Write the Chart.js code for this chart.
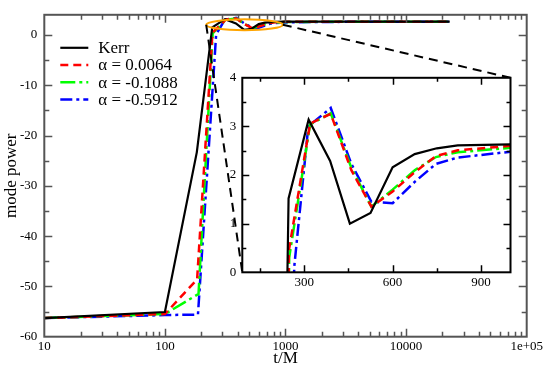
<!DOCTYPE html>
<html>
<head>
<meta charset="utf-8">
<script src="https://cdn.jsdelivr.net/npm/chart.js@4.4.0/dist/chart.umd.min.js"></script>
<style>
body { margin: 0; background: #fff; }
#wrap { position: relative; width: 545px; height: 370px; }
canvas { display: block; }
#inset { position: absolute; }
</style>
</head>
<body>
<div id="wrap">
<canvas id="main" width="545" height="370"></canvas>
<canvas id="inset" width="300" height="230"></canvas>
</div>
<script>
// series (t/M, mode power)
var kerrT = [10, 100, 184, 247, 315, 388, 455, 525, 600, 675, 750, 821, 1000, 2000, 5000, 23000];
var kerrP = [-56.3, -55.1, -23.3, 1.52, 3.14, 2.29, 1.0, 1.22, 2.16, 2.43, 2.55, 2.61, 2.63, 2.64, 2.64, 2.64];

var a1T = [10, 100, 185, 248, 320, 390, 460, 528, 600, 675, 747, 821, 1000, 2000, 5000, 23000];
var a1P = [-56.3, -55.5, -48.6, 0.45, 3.06, 3.26, 2.1, 1.35, 1.66, 2.06, 2.39, 2.51, 2.6, 2.63, 2.64, 2.64];

var a2T = [10, 100, 190, 249, 320, 390, 460, 528, 600, 675, 747, 821, 1000, 2000, 5000, 23000];
var a2P = [-56.3, -55.5, -51.5, 0.3, 3.04, 3.27, 2.15, 1.35, 1.7, 2.1, 2.37, 2.47, 2.56, 2.62, 2.64, 2.64];

var a3T = [10, 100, 188, 266, 314, 390, 460, 528, 600, 675, 747, 821, 1000, 2000, 5000, 23000];
var a3P = [-56.3, -55.7, -55.6, 0.1, 3.0, 3.38, 2.23, 1.45, 1.42, 1.86, 2.23, 2.36, 2.48, 2.58, 2.62, 2.64];

var labels = ['Kerr', 'α = 0.0064', 'α = -0.1088', 'α = -0.5912'];
var colors = ['#000000', '#ff0000', '#00ff00', '#0000ff'];
var dashes = [[], [8, 5], [15, 4, 3, 4], [12, 4, 3, 4]];
var widths = [2.2, 2.5, 2.5, 2.5];

var mainXTicks = [10, 100, 1000, 10000, 100000];
var mainXLabels = ['10', '100', '1000', '10000', '1e+05'];
var mainYTicks = [-60, -50, -40, -30, -20, -10, 0];
var insetXTicks = [300, 600, 900];
var insetYTicks = [0, 1, 2, 3, 4];

// zoomed region marked on the main plot
var zoomT = [220, 950];
var zoomP = [0.95, 3.1];

var insetLeft = 215, insetTop = 64;
var font = "'Liberation Serif', 'Times New Roman', serif";

function toXY(t, p) {
    var out = [];
    for (var i = 0; i < t.length; i++) out.push({x: t[i], y: p[i]});
    return out;
}

function makeDatasets() {
    var ts = [kerrT, a1T, a2T, a3T], ps = [kerrP, a1P, a2P, a3P];
    var ds = [];
    for (var i = 0; i < 4; i++) {
        ds.push({
            label: labels[i],
            data: toXY(ts[i], ps[i]),
            borderColor: colors[i],
            borderWidth: widths[i],
            borderDash: dashes[i],
            pointRadius: 0,
            tension: 0,
            fill: false,
            clip: 0
        });
    }
    return ds;
}

var frameTicks = {
    id: 'frameTicks',
    beforeDraw: function (chart) {
        var a = chart.chartArea, ctx = chart.ctx;
        ctx.save();
        ctx.fillStyle = '#fff';
        ctx.fillRect(a.left, a.top, a.right - a.left, a.bottom - a.top);
        ctx.restore();
    },
    afterDraw: function (chart) {
        var o = chart.options.plugins.frameTicks;
        var ctx = chart.ctx, a = chart.chartArea;
        var xs = chart.scales.x, ys = chart.scales.y;
        ctx.save();
        ctx.strokeStyle = o.color;
        ctx.lineWidth = 1.5;
        function tx(vals, len) {
            vals.forEach(function (v) {
                var px = Math.round(xs.getPixelForValue(v)) + 0.5;
                if (px < a.left + 1 || px > a.right - 1) return;
                ctx.beginPath();
                ctx.moveTo(px, a.bottom); ctx.lineTo(px, a.bottom - len);
                ctx.moveTo(px, a.top); ctx.lineTo(px, a.top + len);
                ctx.stroke();
            });
        }
        function ty(vals, len) {
            vals.forEach(function (v) {
                var py = Math.round(ys.getPixelForValue(v)) + 0.5;
                if (py < a.top + 1 || py > a.bottom - 1) return;
                ctx.beginPath();
                ctx.moveTo(a.left, py); ctx.lineTo(a.left + len, py);
                ctx.moveTo(a.right, py); ctx.lineTo(a.right - len, py);
                ctx.stroke();
            });
        }
        tx(o.xMajor, o.majorLen); tx(o.xMinor, o.minorLen);
        ty(o.yMajor, o.majorLen); ty(o.yMinor, o.minorLen);
        ctx.lineWidth = 2;
        ctx.strokeRect(a.left, a.top, a.right - a.left, a.bottom - a.top);
        ctx.restore();
    }
};

var legendAndZoom = {
    id: 'legendAndZoom',
    afterDraw: function (chart) {
        var ctx = chart.ctx, a = chart.chartArea;
        var xs = chart.scales.x, ys = chart.scales.y;
        ctx.save();
        // legend
        ctx.font = '17px ' + font;
        ctx.textBaseline = 'middle';
        ctx.fillStyle = '#000';
        chart.data.datasets.forEach(function (d, i) {
            var y = a.top + 33 + i * 17.2;
            ctx.strokeStyle = d.borderColor;
            ctx.lineWidth = d.borderWidth;
            ctx.setLineDash(d.borderDash);
            ctx.beginPath();
            ctx.moveTo(a.left + 16, y);
            ctx.lineTo(a.left + 44, y);
            ctx.stroke();
            ctx.fillText(d.label, a.left + 54, y + 1);
        });
        // orange ellipse round the zoomed region
        var x0 = xs.getPixelForValue(zoomT[0]), x1 = xs.getPixelForValue(zoomT[1]);
        var y0 = ys.getPixelForValue(zoomP[1]), y1 = ys.getPixelForValue(zoomP[0]);
        var cx = (x0 + x1) / 2, cy = (y0 + y1) / 2, rx = (x1 - x0) / 2, ry = (y1 - y0) / 2;
        ctx.setLineDash([]);
        ctx.strokeStyle = '#ffa500';
        ctx.lineWidth = 2;
        ctx.beginPath();
        ctx.ellipse(cx, cy, rx, ry, 0, 0, Math.PI * 2);
        ctx.stroke();
        // dashed connectors to the inset corners
        var ia = insetChart.chartArea;
        ctx.strokeStyle = '#000';
        ctx.setLineDash([9, 6]);
        ctx.beginPath();
        ctx.moveTo(cx - rx, cy);
        ctx.lineTo(insetLeft + ia.left, insetTop + ia.bottom);
        ctx.moveTo(cx + rx, cy);
        ctx.lineTo(insetLeft + ia.right, insetTop + ia.top);
        ctx.stroke();
        ctx.restore();
    }
};

var mainXMinor = [], mainYMinor = [];
for (var e = 10; e < 100000; e *= 10) {
    for (var k = 2; k <= 9; k++) mainXMinor.push(k * e);
}
for (var v = -55; v < 4; v += 10) mainYMinor.push(v);

var insetXMinor = [150, 450, 750];
var insetYMinor = [0.5, 1.5, 2.5, 3.5];

var insetEl = document.getElementById('inset');
insetEl.style.left = insetLeft + 'px';
insetEl.style.top = insetTop + 'px';

var insetChart = new Chart(insetEl, {
    type: 'line',
    data: {datasets: makeDatasets()},
    plugins: [frameTicks],
    options: {
        responsive: false,
        animation: false,
        layout: {padding: {left: 0, top: 9.5, right: 4.5, bottom: 0}},
        plugins: {
            legend: {display: false},
            tooltip: {enabled: false},
            frameTicks: {color: '#000', xMajor: insetXTicks, xMinor: insetXMinor, yMajor: insetYTicks, yMinor: insetYMinor, majorLen: 7, minorLen: 4}
        },
        scales: {
            x: {
                type: 'linear', min: 90, max: 1000,
                grid: {display: false, drawTicks: false}, border: {display: false},
                afterBuildTicks: function (s) { s.ticks = insetXTicks.map(function (v) { return {value: v}; }); },
                afterFit: function (s) { s.height = 21.7; },
                ticks: {color: '#000', padding: 2, maxRotation: 0, font: {family: font, size: 13}}
            },
            y: {
                min: 0, max: 4,
                grid: {display: false, drawTicks: false}, border: {display: false},
                afterBuildTicks: function (s) { s.ticks = insetYTicks.map(function (v) { return {value: v}; }); },
                afterFit: function (s) { s.width = 27.3; },
                ticks: {color: '#000', padding: 6, font: {family: font, size: 13}}
            }
        }
    }
});

var mainChart = new Chart(document.getElementById('main'), {
    type: 'line',
    data: {datasets: makeDatasets()},
    plugins: [frameTicks, legendAndZoom],
    options: {
        responsive: false,
        animation: false,
        layout: {padding: {left: 0, top: 1.5, right: 18.3, bottom: 0}},
        plugins: {
            legend: {display: false},
            tooltip: {enabled: false},
            frameTicks: {color: '#555', xMajor: mainXTicks, xMinor: mainXMinor, yMajor: mainYTicks, yMinor: mainYMinor, majorLen: 8, minorLen: 5}
        },
        scales: {
            x: {
                type: 'logarithmic', min: 10, max: 100000,
                grid: {display: false, drawTicks: false}, border: {display: false},
                afterBuildTicks: function (s) { s.ticks = mainXTicks.map(function (v) { return {value: v}; }); },
                afterFit: function (s) { s.height = 33.3; },
                ticks: {
                    color: '#000', padding: 2, maxRotation: 0, font: {family: font, size: 13},
                    callback: function (v) { return mainXLabels[mainXTicks.indexOf(v)]; }
                },
                title: {display: true, text: 't/M', color: '#000', padding: {top: 0, bottom: 1}, font: {family: font, size: 17}}
            },
            y: {
                min: -60, max: 4,
                grid: {display: false, drawTicks: false}, border: {display: false},
                afterBuildTicks: function (s) { s.ticks = mainYTicks.map(function (v) { return {value: v}; }); },
                afterFit: function (s) { s.width = 44.3; },
                ticks: {color: '#000', padding: 7, font: {family: font, size: 13}},
                title: {display: true, text: 'mode power', color: '#000', padding: {top: 1, bottom: 0}, font: {family: font, size: 17}}
            }
        }
    }
});
</script>
</body>
</html>
